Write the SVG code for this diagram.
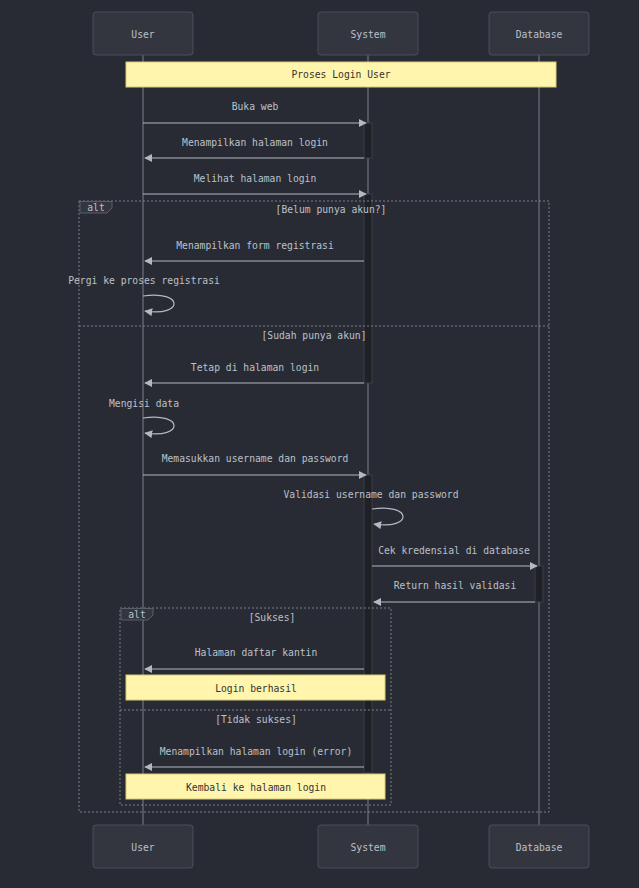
<svg xmlns="http://www.w3.org/2000/svg" width="639" height="888" viewBox="0 0 639 888">
<defs>
<style>
text{font-family:"DejaVu Sans Mono","Liberation Mono",monospace;font-size:9.7px;fill:#bcc1ca;text-anchor:middle}
.actor{fill:#33363f;stroke:#4b4f5b;stroke-width:1}
.life{stroke:#7b808c;stroke-width:1}
.msg{stroke:#b4b8c0;stroke-width:1.2;fill:none}
.act{fill:#1f2127;stroke:#3c3f47;stroke-width:1}
.note{fill:#fff5ad;stroke:#d8ca7a;stroke-width:1}
.note-t{fill:#333333}
.frame{fill:none;stroke:#7a7f8a;stroke-width:1;stroke-dasharray:2,2}
.lbl{fill:#33363f;stroke:#5a5e6a;stroke-width:1}
</style>
<marker id="ah" viewBox="0 0 10 10" refX="9" refY="5" markerWidth="8" markerHeight="8" markerUnits="userSpaceOnUse" orient="auto">
<path d="M0,0 L10,5 L0,10 z" fill="#b4b8c0"/>
</marker>
</defs>
<rect width="639" height="888" fill="#282b34"/>

<g id="lifelines">
<line class="life" x1="143" y1="55" x2="143" y2="825"/>
<line class="life" x1="368" y1="55" x2="368" y2="825"/>
<line class="life" x1="539" y1="55" x2="539" y2="825"/>
</g>

<g id="actor-user-top"><rect class="actor" x="93" y="12" width="100" height="43" rx="3"/><text x="143" y="38">User</text></g>
<g id="actor-system-top"><rect class="actor" x="318" y="12" width="100" height="43" rx="3"/><text x="368" y="38">System</text></g>
<g id="actor-database-top"><rect class="actor" x="489" y="12" width="100" height="43" rx="3"/><text x="539" y="38">Database</text></g>

<g id="note-proses"><rect class="note" x="126" y="62" width="430" height="25"/><text class="note-t" x="341" y="78">Proses Login User</text></g>

<g id="activations">
<rect class="act" x="364" y="123" width="8" height="35"/>
<rect class="act" x="364" y="194" width="8" height="189"/>
<rect class="act" x="364" y="475" width="8" height="298"/>
<rect class="act" x="535" y="566" width="8" height="36"/>
</g>

<g id="frames">
<rect class="frame" x="79" y="201" width="470" height="611"/>
<path class="lbl" d="M80,201.5 H112 V208 L107,213 H80 Z"/>
<text x="96" y="211">alt</text>
<text x="331" y="213">[Belum punya akun?]</text>
<line class="frame" x1="79" y1="326" x2="549" y2="326"/>
<text x="314" y="339">[Sudah punya akun]</text>
<rect class="frame" x="120" y="608" width="271" height="197"/>
<path class="lbl" d="M121,608.5 H153 V615 L148,620 H121 Z"/>
<text x="137" y="618">alt</text>
<text x="272" y="621">[Sukses]</text>
<line class="frame" x1="120" y1="710" x2="391" y2="710"/>
<text x="256" y="723">[Tidak sukses]</text>
</g>

<g id="connectors">
<text x="255" y="110">Buka web</text>
<line class="msg" x1="143" y1="123" x2="366" y2="123" marker-end="url(#ah)"/>
<text x="255" y="146">Menampilkan halaman login</text>
<line class="msg" x1="364" y1="158" x2="145" y2="158" marker-end="url(#ah)"/>
<text x="255" y="182">Melihat halaman login</text>
<line class="msg" x1="143" y1="194" x2="366" y2="194" marker-end="url(#ah)"/>
<text x="255" y="249">Menampilkan form registrasi</text>
<line class="msg" x1="364" y1="261" x2="145" y2="261" marker-end="url(#ah)"/>
<text x="144" y="284">Pergi ke proses registrasi</text>
<path class="msg" d="M143,296 C184,290 184,317 145,311" marker-end="url(#ah)"/>
<text x="255" y="371">Tetap di halaman login</text>
<line class="msg" x1="364" y1="383" x2="145" y2="383" marker-end="url(#ah)"/>
<text x="144" y="407">Mengisi data</text>
<path class="msg" d="M143,418 C184,412 184,439 145,433" marker-end="url(#ah)"/>
<text x="255" y="462">Memasukkan username dan password</text>
<line class="msg" x1="143" y1="475" x2="366" y2="475" marker-end="url(#ah)"/>
<text x="371" y="498">Validasi username dan password</text>
<path class="msg" d="M372,509 C413,503 413,530 374,524" marker-end="url(#ah)"/>
<text x="454" y="554">Cek kredensial di database</text>
<line class="msg" x1="372" y1="566" x2="537" y2="566" marker-end="url(#ah)"/>
<text x="455" y="589">Return hasil validasi</text>
<line class="msg" x1="535" y1="602" x2="374" y2="602" marker-end="url(#ah)"/>
<text x="256" y="656">Halaman daftar kantin</text>
<line class="msg" x1="364" y1="669" x2="145" y2="669" marker-end="url(#ah)"/>
<text x="256" y="755">Menampilkan halaman login (error)</text>
<line class="msg" x1="364" y1="767" x2="145" y2="767" marker-end="url(#ah)"/>
</g>

<g id="note-login-berhasil"><rect class="note" x="126" y="675" width="259" height="25"/><text class="note-t" x="256" y="692">Login berhasil</text></g>
<g id="note-kembali"><rect class="note" x="126" y="774" width="259" height="25"/><text class="note-t" x="256" y="791">Kembali ke halaman login</text></g>

<g id="actor-user-bottom"><rect class="actor" x="93" y="825" width="100" height="43" rx="3"/><text x="143" y="851">User</text></g>
<g id="actor-system-bottom"><rect class="actor" x="318" y="825" width="100" height="43" rx="3"/><text x="368" y="851">System</text></g>
<g id="actor-database-bottom"><rect class="actor" x="489" y="825" width="100" height="43" rx="3"/><text x="539" y="851">Database</text></g>
</svg>
